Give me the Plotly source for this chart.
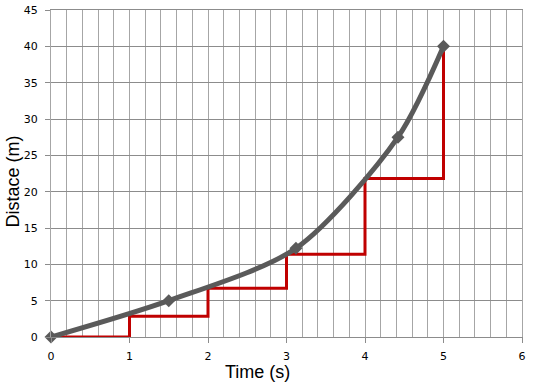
import plotly.graph_objects as go

# Data
curve_t = [0, 1.5, 3.12, 4.42, 5.0]
curve_d = [0, 5.0, 12.2, 27.5, 40.0]

step_t = [0, 1, 2, 3, 4, 5]
step_d = [0, 2.85, 6.7, 11.4, 21.8, 40.0]

x_ticks = [0, 1, 2, 3, 4, 5, 6]
y_ticks = [0, 5, 10, 15, 20, 25, 30, 35, 40, 45]

fig = go.Figure()

fig.add_trace(go.Scatter(
    x=step_t, y=step_d, mode="lines",
    line=dict(color="#C00000", width=3, shape="hv"),
    hoverinfo="skip", showlegend=False, cliponaxis=False,
))

fig.add_trace(go.Scatter(
    x=curve_t, y=curve_d, mode="lines+markers",
    line=dict(color="#5A5A5A", width=5, shape="spline", smoothing=0.8),
    marker=dict(symbol="diamond", size=10, color="#5A5A5A"),
    showlegend=False, cliponaxis=False,
))

fig.update_layout(
    width=533, height=385,
    margin=dict(l=51, r=11, t=10, b=48, autoexpand=False),
    paper_bgcolor="white", plot_bgcolor="white",
    font=dict(family="DejaVu Sans", size=11, color="black"),
    xaxis=dict(
        range=[0, 6], tickvals=x_ticks, ticktext=[str(v) for v in x_ticks],
        showgrid=True, gridcolor="#A6A6A6", gridwidth=1,
        minor=dict(dtick=0.2, showgrid=True, gridcolor="#A6A6A6", gridwidth=1),
        showline=True, linecolor="#8C8C8C", linewidth=1, mirror=True,
        ticks="outside", ticklen=5, tickcolor="#8C8C8C",
        ticklabelstandoff=4,
        zeroline=False, automargin=False,
    ),
    yaxis=dict(
        range=[0, 45], tickvals=y_ticks, ticktext=[str(v) for v in y_ticks],
        showgrid=True, gridcolor="#8C8C8C", gridwidth=1,
        showline=True, linecolor="#A6A6A6", linewidth=1, mirror=True,
        ticks="outside", ticklen=5, tickcolor="#8C8C8C",
        ticklabelstandoff=5,
        zeroline=False, automargin=False,
    ),
    annotations=[
        dict(text="Time (s)", xref="paper", x=(257.5 - 51) / 471,
             yref="paper", y=0, yshift=-35, xanchor="center", yanchor="middle",
             showarrow=False, font=dict(family="Liberation Sans", size=18, color="black")),
        dict(text="Distace (m)", x=0, y=0.5, xref="paper", yref="paper",
             xshift=-38.5, yshift=-8.5, textangle=-90, xanchor="center", yanchor="middle",
             showarrow=False,
             font=dict(family="Liberation Sans", size=18, color="black")),
    ],
)

fig.write_html("out.html", config={"displayModeBar": False},
               post_script="document.body.style.margin='0';")
